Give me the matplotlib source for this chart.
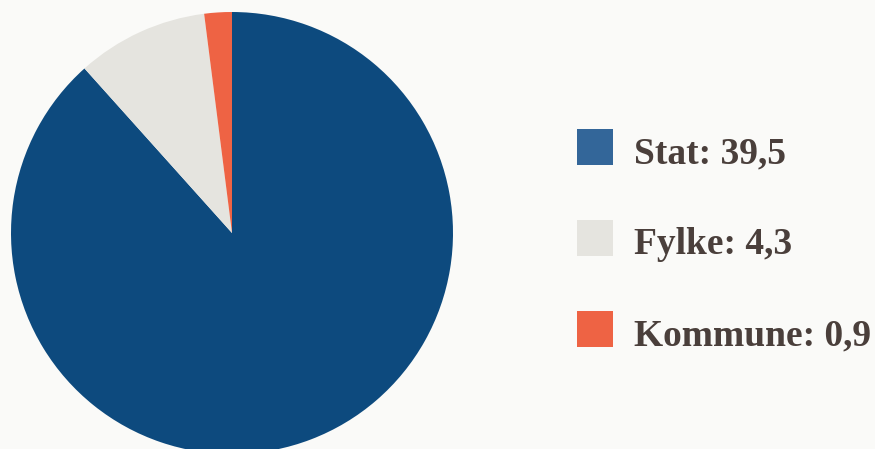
import matplotlib.pyplot as plt
from matplotlib.patches import Rectangle

labels = ['Stat', 'Fylke', 'Kommune']
values = [39.5, 4.3, 0.9]
pie_colors = ['#0d4a7e', '#e5e4df', '#ee6344']
legend_colors = ['#336699', '#e5e4df', '#ee6344']

W, H = 875, 449
bg = '#fafaf8'
fig = plt.figure(figsize=(W / 100, H / 100), dpi=100, facecolor=bg)

# pie placed by pixel centre and radius
cx, cy, r = 232, 233, 221
ax = fig.add_axes([(cx - r) / W, (H - cy - r) / H, 2 * r / W, 2 * r / H])
ax.set_facecolor(bg)
ax.pie(values, colors=pie_colors, startangle=90, counterclock=False,
       radius=1, wedgeprops=dict(linewidth=0))
ax.set_xlim(-1, 1)
ax.set_ylim(-1, 1)
ax.set_aspect('equal')
ax.axis('off')

# legend on the right
sw_x, sw_size = 577, 36
sw_tops = [129, 220, 311]
for lab, val, col, top in zip(labels, values, legend_colors, sw_tops):
    fig.add_artist(Rectangle((sw_x / W, (H - top - sw_size) / H), sw_size / W, sw_size / H,
                             transform=fig.transFigure, facecolor=col, edgecolor='none'))
    txt = f'{lab}: {val:.1f}'.replace('.', ',')
    fig.text(634 / W, (H - top - sw_size + 2) / H, txt, fontsize=27, fontweight='bold',
             family='Liberation Serif', color='#4a3f3b', va='baseline', ha='left')

fig.savefig('out.png', dpi=100, facecolor=bg)
